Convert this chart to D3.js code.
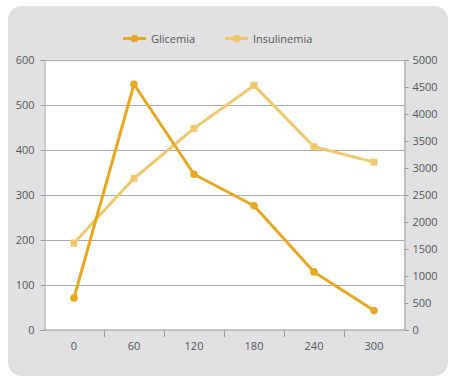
<!DOCTYPE html>
<html><head><meta charset="utf-8">
<script src="https://cdn.jsdelivr.net/npm/d3@7"></script>
<style>body{margin:0;background:#fff}svg{display:block}text{font-family:"Open Sans",sans-serif;}</style>
</head><body><svg id="c" width="454" height="382"></svg>
<script>
const categories = ["0","60","120","180","240","300"];
const glicemia = [70, 545, 345, 275, 128, 42];
const insulinemia = [1600, 2800, 3725, 4520, 3385, 3100];
const leftTicks = [0,100,200,300,400,500,600];
const rightTicks = [0,500,1000,1500,2000,2500,3000,3500,4000,4500,5000];
const seriesNames = ["Glicemia","Insulinemia"];

const svg = d3.select("#c");
const m={l:44,r:404,t:59.5,b:329.5};
const gC="#E6A823", iC="#F0C96F", txt="#555", axC="#9a9a9a";

svg.append("rect").attr("x",8).attr("y",6).attr("width",440).attr("height",370).attr("rx",14).attr("fill","#E1E1E3");
svg.append("rect").attr("x",m.l).attr("y",m.t).attr("width",m.r-m.l).attr("height",m.b-m.t).attr("fill","#fff");

const x = d3.scaleBand().domain(categories).range([m.l,m.r]);
const yL = d3.scaleLinear().domain([0,600]).range([m.b,m.t]);
const yR = d3.scaleLinear().domain([0,5000]).range([m.b,m.t]);

svg.append("g").selectAll("line").data(leftTicks.filter(d=>d>0)).join("line")
  .attr("x1",m.l).attr("x2",m.r).attr("y1",d=>Math.round(yL(d))+0.5).attr("y2",d=>Math.round(yL(d))+0.5)
  .attr("stroke","#a8a8a8").attr("stroke-width",1);

const gl = svg.append("g").attr("transform",`translate(${m.l+0.5},0.5)`)
  .call(d3.axisLeft(yL).tickValues(leftTicks).tickSize(4).tickPadding(6).tickFormat(d3.format("d")));
const gr = svg.append("g").attr("transform",`translate(${m.r+0.5},0.5)`)
  .call(d3.axisRight(yR).tickValues(rightTicks).tickSize(4).tickPadding(4).tickFormat(d3.format("d")));
const gb = svg.append("g").attr("transform",`translate(0,${m.b+0.5})`)
  .call(d3.axisBottom(x).tickSize(0).tickPadding(12));
gb.select(".domain").attr("d",`M${m.l},0H${m.r}`);
gb.append("g").selectAll("line").data(categories.slice(1)).join("line")
  .attr("x1",d=>Math.round(x(d))+0.5).attr("x2",d=>Math.round(x(d))+0.5).attr("y1",1).attr("y2",7)
  .attr("stroke",axC);
[gl,gr,gb].forEach(g=>{
  g.selectAll(".domain").attr("stroke",axC);
  g.selectAll(".tick line").attr("stroke",axC);
  g.selectAll("text").attr("fill",txt).attr("font-size",11).attr("font-family","'Open Sans',sans-serif");
});
gb.selectAll(".tick text").attr("dy","0.71em");

const cx = d=>x(d)+x.bandwidth()/2;
svg.append("path").datum(insulinemia).attr("fill","none").attr("stroke",iC).attr("stroke-width",3).attr("stroke-linejoin","round")
  .attr("d",d3.line().x((d,i)=>cx(categories[i])).y(d=>yR(d)));
svg.append("g").selectAll("rect").data(insulinemia).join("rect")
  .attr("x",(d,i)=>cx(categories[i])-3.5).attr("y",d=>yR(d)-3.5).attr("width",7).attr("height",7).attr("fill",iC);
svg.append("path").datum(glicemia).attr("fill","none").attr("stroke",gC).attr("stroke-width",3).attr("stroke-linejoin","round")
  .attr("d",d3.line().x((d,i)=>cx(categories[i])).y(d=>yL(d)));
svg.append("g").selectAll("circle").data(glicemia).join("circle")
  .attr("cx",(d,i)=>cx(categories[i])).attr("cy",d=>yL(d)).attr("r",3.8).attr("fill",gC);

const lg = svg.append("g");
const leg = [{n:seriesNames[0],c:gC,x:123,shape:"c"},{n:seriesNames[1],c:iC,x:225,shape:"s"}];
leg.forEach(L=>{
  lg.append("line").attr("x1",L.x).attr("x2",L.x+23).attr("y1",38.5).attr("y2",38.5).attr("stroke",L.c).attr("stroke-width",3);
  if(L.shape==="c") lg.append("circle").attr("cx",L.x+11.5).attr("cy",38.5).attr("r",3.8).attr("fill",L.c);
  else lg.append("rect").attr("x",L.x+8).attr("y",35).attr("width",7).attr("height",7).attr("fill",L.c);
  lg.append("text").attr("x",L.x+28).attr("y",42.5).attr("font-size",11).attr("fill",txt).text(L.n);
});
</script></body></html>
